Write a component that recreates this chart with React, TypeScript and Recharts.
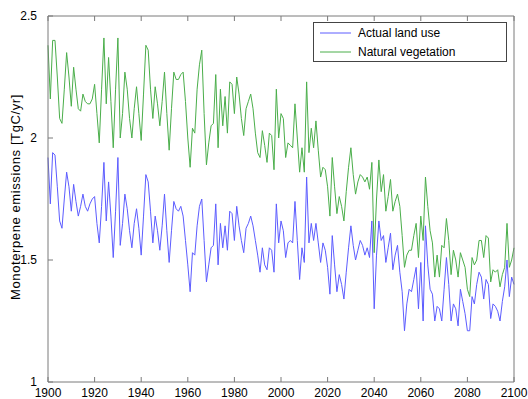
import { LineChart, Line, XAxis, YAxis, Legend } from "recharts";

const years: number[] = Array.from({ length: 201 }, (_, i) => 1900 + i);

const natural: number[] = [
  2.38, 2.16, 2.4, 2.4, 2.25, 2.08, 2.06, 2.2, 2.35, 2.25,
  2.13, 2.29, 2.2, 2.12, 2.11, 2.18, 2.15, 2.14, 2.14, 2.16,
  2.22, 2.1, 1.98, 2.2, 2.41, 2.14, 2.33, 2.15, 1.96, 2.2,
  2.41, 2.0, 2.1, 2.27, 2.2, 2.08, 2.0, 2.12, 2.21, 2.1,
  1.99, 2.18, 2.38, 2.36, 2.2, 2.08, 2.21, 2.14, 2.05, 2.15,
  2.27, 2.1, 1.95, 2.12, 2.27, 2.24, 2.24, 2.26, 2.27, 2.15,
  2.0, 1.88, 2.04, 2.02, 2.2, 2.3, 2.36, 2.1, 1.89, 1.98,
  2.05, 2.06, 2.26, 1.96, 2.2, 2.05, 2.17, 2.02, 2.23, 2.22,
  2.1, 2.25, 2.18, 2.08, 2.01, 2.12, 2.15, 2.18, 2.12, 2.02,
  1.94, 1.92, 2.03, 1.97, 1.9, 2.02, 2.01, 1.87, 2.2, 2.0,
  2.1, 2.08, 1.92, 1.98, 1.97, 1.96, 2.14, 2.0, 1.86, 1.96,
  1.86, 2.23, 1.94, 2.04, 1.96, 2.07, 1.95, 1.84, 1.88, 1.87,
  1.8, 1.68, 1.92, 1.8, 1.69, 1.76, 1.72, 1.66, 1.78, 1.88,
  1.96, 1.85, 1.77, 1.82, 1.85, 1.84, 1.82, 1.84, 1.79, 1.9,
  1.53, 1.75, 1.91, 1.78, 1.85, 1.7, 1.76, 1.83, 1.7, 1.74,
  1.77, 1.72, 1.6, 1.47, 1.52, 1.54, 1.54, 1.6, 1.65, 1.51,
  1.68, 1.58, 1.84, 1.72, 1.62, 1.57, 1.43, 1.52, 1.43, 1.56,
  1.55, 1.67, 1.58, 1.44, 1.54, 1.5, 1.43, 1.53, 1.5, 1.47,
  1.38, 1.35, 1.51, 1.48, 1.5, 1.58, 1.58, 1.51, 1.6, 1.59,
  1.41, 1.46, 1.45, 1.46, 1.39, 1.44, 1.47, 1.65, 1.47, 1.5,
  1.55,
];

const actual: number[] = [
  1.92, 1.73, 1.94, 1.93, 1.8, 1.66, 1.63, 1.75, 1.86, 1.8,
  1.7, 1.81, 1.74, 1.68, 1.72, 1.77, 1.72, 1.7, 1.73, 1.75,
  1.76, 1.65, 1.57, 1.72, 1.9, 1.66, 1.82, 1.68, 1.51, 1.7,
  1.92, 1.56, 1.65, 1.77, 1.71, 1.62, 1.55, 1.65, 1.71, 1.63,
  1.52, 1.68, 1.85, 1.82, 1.7, 1.57, 1.68, 1.62, 1.54, 1.64,
  1.77, 1.62, 1.49, 1.62, 1.74, 1.71, 1.7, 1.72, 1.68, 1.58,
  1.48, 1.37, 1.53, 1.52, 1.64, 1.72, 1.75, 1.58, 1.41, 1.48,
  1.55, 1.56, 1.73, 1.48, 1.65, 1.55, 1.64, 1.54, 1.7, 1.69,
  1.58, 1.72, 1.64, 1.58, 1.53, 1.63, 1.65, 1.68, 1.64, 1.58,
  1.52, 1.45, 1.55, 1.48, 1.46, 1.55, 1.54, 1.45, 1.73, 1.57,
  1.66, 1.62, 1.51, 1.57, 1.58, 1.57, 1.74, 1.58, 1.42, 1.55,
  1.49, 1.84, 1.57, 1.65, 1.58, 1.65, 1.57, 1.49, 1.57, 1.54,
  1.47, 1.36, 1.6, 1.48, 1.37, 1.44, 1.4, 1.34, 1.45, 1.55,
  1.64, 1.56, 1.5, 1.54, 1.58, 1.56, 1.52, 1.55, 1.51, 1.66,
  1.3, 1.52, 1.66, 1.58, 1.6, 1.49, 1.55, 1.61, 1.46, 1.52,
  1.56, 1.45, 1.37, 1.21, 1.32, 1.38, 1.37, 1.42, 1.47, 1.3,
  1.49, 1.25, 1.64, 1.48, 1.38, 1.36, 1.25, 1.31, 1.3, 1.25,
  1.38, 1.51, 1.4, 1.25, 1.32, 1.3, 1.23, 1.38, 1.33, 1.28,
  1.21, 1.21, 1.35, 1.32, 1.4, 1.45, 1.43, 1.34, 1.42, 1.4,
  1.26, 1.32, 1.31, 1.29, 1.25, 1.33, 1.39, 1.5, 1.35, 1.43,
  1.4,
];

const xTicks = [1900, 1920, 1940, 1960, 1980, 2000, 2020, 2040, 2060, 2080, 2100];
const yTicks = [1, 1.5, 2, 2.5];

const data = years.map((year, i) => ({ year, actual: actual[i], natural: natural[i] }));

const font = "'Liberation Sans', Arial, sans-serif";
const axisColor = "#7a7a7a";
const blue = "#5c5cff";
const green = "#4aae4a";

function AxisTitle() {
  return (
    <text
      x={15}
      y={197}
      transform="rotate(-90 15 197)"
      textAnchor="middle"
      dominantBaseline="central"
      style={{ fill: "#000", fontSize: 13, letterSpacing: 0.6, fontFamily: font }}
    >
      Monoterpene emissions [TgC/yr]
    </text>
  );
}

function LegendBox() {
  const rows = [
    { name: "Actual land use", color: blue },
    { name: "Natural vegetation", color: green },
  ];
  return (
    <div
      style={{
        width: 192,
        height: 38,
        border: "1px solid #444",
        background: "#fff",
        fontFamily: font,
        fontSize: 12,
        color: "#000",
        boxSizing: "content-box",
      }}
    >
      {rows.map((r) => (
        <div key={r.name} style={{ display: "flex", alignItems: "center", height: 18, marginTop: 1 }}>
          <svg width={44} height={10}>
            <line x1={6} y1={5} x2={37} y2={5} stroke={r.color} strokeWidth={1} />
          </svg>
          <span>{r.name}</span>
        </div>
      ))}
    </div>
  );
}

export default function App() {
  return (
    <div style={{ position: "absolute", left: 0, top: 0, width: 528, height: 399, background: "#fff" }}>
      <LineChart width={528} height={399} data={data} margin={{ top: 0, right: 0, bottom: 0, left: 0 }}>
        <XAxis
          xAxisId="b"
          dataKey="year"
          type="number"
          domain={[1900, 2100]}
          ticks={xTicks}
          height={17}
          tickSize={-5}
          tickMargin={11}
          stroke={axisColor}
          tick={{ fill: "#000", fontSize: 12, fontFamily: font }}
        />
        <XAxis
          xAxisId="t"
          orientation="top"
          dataKey="year"
          type="number"
          domain={[1900, 2100]}
          ticks={xTicks}
          height={16}
          tickSize={-5}
          tickFormatter={() => ""}
          stroke={axisColor}
        />
        <YAxis
          yAxisId="l"
          type="number"
          domain={[1, 2.5]}
          ticks={yTicks}
          width={48}
          tickSize={-5}
          tickMargin={16}
          stroke={axisColor}
          tick={{ fill: "#000", fontSize: 12, fontFamily: font }}
          label={<AxisTitle />}
        />
        <YAxis
          yAxisId="r"
          orientation="right"
          type="number"
          domain={[1, 2.5]}
          ticks={yTicks}
          width={14}
          tickSize={-5}
          tickFormatter={() => ""}
          stroke={axisColor}
        />
        <Legend
          layout="vertical"
          align="center"
          verticalAlign="middle"
          wrapperStyle={{ left: 313, top: 22, width: 194 }}
          content={() => <LegendBox />}
        />
        <Line
          xAxisId="b"
          yAxisId="l"
          type="linear"
          dataKey="actual"
          name="Actual land use"
          stroke={blue}
          strokeWidth={1}
          dot={false}
          isAnimationActive={false}
        />
        <Line
          xAxisId="b"
          yAxisId="l"
          type="linear"
          dataKey="natural"
          name="Natural vegetation"
          stroke={green}
          strokeWidth={1}
          dot={false}
          isAnimationActive={false}
        />
      </LineChart>
    </div>
  );
}
